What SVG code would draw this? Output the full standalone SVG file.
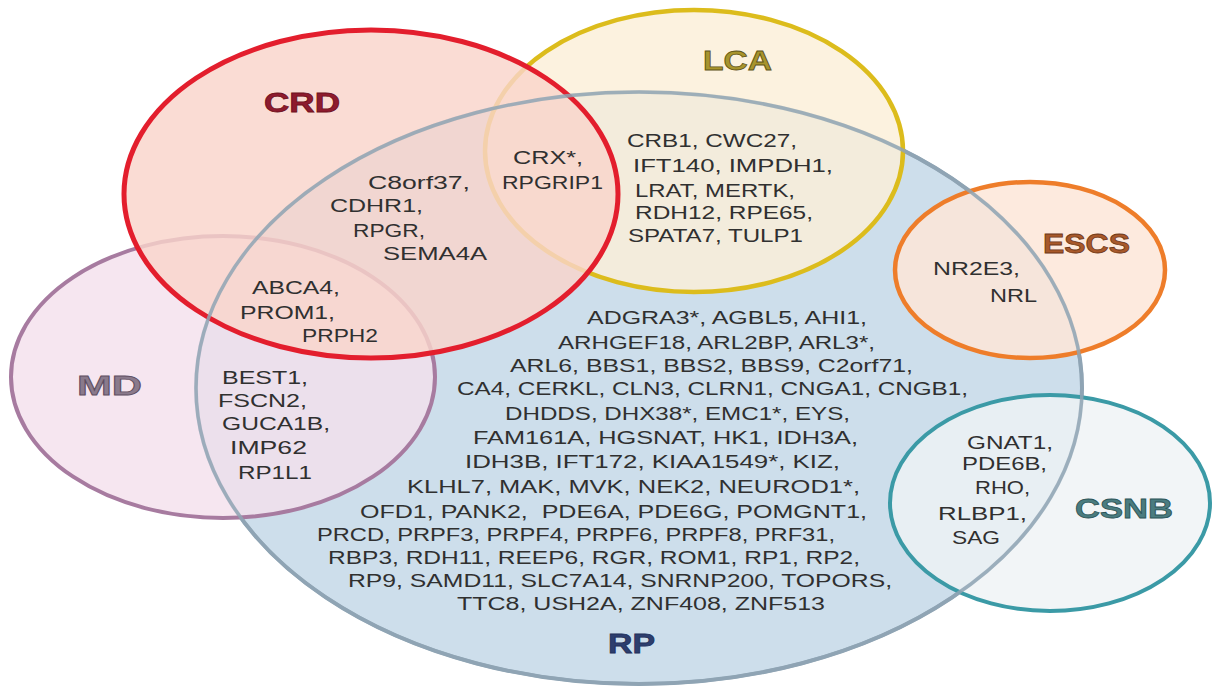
<svg xmlns="http://www.w3.org/2000/svg" width="1212" height="691" viewBox="0 0 1212 691">
<style>
.lbl{font-family:"Liberation Sans",Arial,sans-serif;font-weight:bold;font-size:28px;stroke-width:0.8px}
.g{font-family:"Liberation Sans",Arial,sans-serif;font-size:18px;fill:#303030}
.edge{fill:none}
</style>
<defs>
<ellipse id="rp-shape" cx="639" cy="388" rx="443" ry="296"/>
</defs>
<rect width="1212" height="691" fill="#ffffff"/>
<g id="RP">
<use href="#rp-shape" fill="#cddeeb" stroke="#8fa4b4" stroke-width="4"/>
<text class="lbl" x="608" y="653" textLength="47" lengthAdjust="spacingAndGlyphs" fill="#2d3e6e" stroke="#23305a">RP</text>
</g>
<g id="MD">
<ellipse cx="223" cy="377" rx="212" ry="141" fill="#f4e0ec" fill-opacity="0.8" stroke="#a77ba0" stroke-width="4"/>
<text class="lbl" x="77" y="395" textLength="65" lengthAdjust="spacingAndGlyphs" fill="#8a7a8c" stroke="#5e4e60">MD</text>
</g>
<g id="LCA">
<ellipse cx="694" cy="151" rx="209" ry="141" fill="#fbefd8" fill-opacity="0.82" stroke="#dcbc1c" stroke-width="4.5"/>
<text class="lbl" x="703" y="70" textLength="69" lengthAdjust="spacingAndGlyphs" fill="#a8942c" stroke="#5e5418">LCA</text>
</g>
<g id="CRD">
<ellipse cx="371" cy="194" rx="247" ry="164" fill="#f9d4cb" fill-opacity="0.82" stroke="#e31e2d" stroke-width="5"/>
<text class="lbl" x="264" y="112" textLength="76" lengthAdjust="spacingAndGlyphs" fill="#8e1b2e" stroke="#6e1020">CRD</text>
</g>
<g id="ESCS">
<ellipse cx="1030" cy="270" rx="135" ry="88" fill="#fde6d8" fill-opacity="0.85" stroke="#ee7d2a" stroke-width="4.5"/>
<text class="lbl" x="1043" y="253" textLength="87" lengthAdjust="spacingAndGlyphs" fill="#a8582a" stroke="#6e3818">ESCS</text>
</g>
<g id="CSNB">
<ellipse cx="1050" cy="503" rx="160" ry="108" fill="#eff3f5" fill-opacity="0.8" stroke="#3b9aa6" stroke-width="4"/>
<text class="lbl" x="1075" y="518" textLength="98" lengthAdjust="spacingAndGlyphs" fill="#4a7c80" stroke="#2c5457">CSNB</text>
</g>
<g id="rp-outline">
<use href="#rp-shape" class="edge" stroke="#8fa4b4" stroke-width="3.5" stroke-opacity="0.85"/>
</g>
<g id="genes-crd-rp">
<text class="g" x="368" y="188.5" textLength="102" lengthAdjust="spacingAndGlyphs">C8orf37,</text>
<text class="g" x="330" y="211.5" textLength="93" lengthAdjust="spacingAndGlyphs">CDHR1,</text>
<text class="g" x="353" y="236.5" textLength="72" lengthAdjust="spacingAndGlyphs">RPGR,</text>
<text class="g" x="383" y="259.5" textLength="104" lengthAdjust="spacingAndGlyphs">SEMA4A</text>
</g>
<g id="genes-crd-lca-rp">
<text class="g" x="513" y="164" textLength="70" lengthAdjust="spacingAndGlyphs">CRX*,</text>
<text class="g" x="502" y="188.5" textLength="101" lengthAdjust="spacingAndGlyphs">RPGRIP1</text>
</g>
<g id="genes-lca-rp">
<text class="g" x="627" y="146.5" textLength="170" lengthAdjust="spacingAndGlyphs">CRB1, CWC27,</text>
<text class="g" x="633" y="171.5" textLength="200" lengthAdjust="spacingAndGlyphs">IFT140, IMPDH1,</text>
<text class="g" x="635" y="196.5" textLength="160" lengthAdjust="spacingAndGlyphs">LRAT, MERTK,</text>
<text class="g" x="635" y="218.5" textLength="178" lengthAdjust="spacingAndGlyphs">RDH12, RPE65,</text>
<text class="g" x="628" y="241.5" textLength="175" lengthAdjust="spacingAndGlyphs">SPATA7, TULP1</text>
</g>
<g id="genes-escs-rp">
<text class="g" x="933" y="274.5" textLength="87" lengthAdjust="spacingAndGlyphs">NR2E3,</text>
<text class="g" x="990" y="301.5" textLength="47" lengthAdjust="spacingAndGlyphs">NRL</text>
</g>
<g id="genes-crd-md-rp">
<text class="g" x="252" y="293.5" textLength="88" lengthAdjust="spacingAndGlyphs">ABCA4,</text>
<text class="g" x="240" y="318.5" textLength="95" lengthAdjust="spacingAndGlyphs">PROM1,</text>
<text class="g" x="302" y="341.5" textLength="76" lengthAdjust="spacingAndGlyphs">PRPH2</text>
</g>
<g id="genes-md-rp">
<text class="g" x="222" y="383.5" textLength="86" lengthAdjust="spacingAndGlyphs">BEST1,</text>
<text class="g" x="218" y="406.5" textLength="89" lengthAdjust="spacingAndGlyphs">FSCN2,</text>
<text class="g" x="222" y="429.5" textLength="108" lengthAdjust="spacingAndGlyphs">GUCA1B,</text>
<text class="g" x="230" y="453.5" textLength="77" lengthAdjust="spacingAndGlyphs">IMP62</text>
<text class="g" x="238" y="478.5" textLength="74" lengthAdjust="spacingAndGlyphs">RP1L1</text>
</g>
<g id="genes-rp">
<text class="g" x="587" y="323.5" textLength="280" lengthAdjust="spacingAndGlyphs">ADGRA3*, AGBL5, AHI1,</text>
<text class="g" x="558" y="348.5" textLength="317" lengthAdjust="spacingAndGlyphs">ARHGEF18, ARL2BP, ARL3*,</text>
<text class="g" x="510" y="371.5" textLength="403" lengthAdjust="spacingAndGlyphs">ARL6, BBS1, BBS2, BBS9, C2orf71,</text>
<text class="g" x="457" y="394.5" textLength="511" lengthAdjust="spacingAndGlyphs">CA4, CERKL, CLN3, CLRN1, CNGA1, CNGB1,</text>
<text class="g" x="505" y="419.5" textLength="345" lengthAdjust="spacingAndGlyphs">DHDDS, DHX38*, EMC1*, EYS,</text>
<text class="g" x="473" y="443.5" textLength="385" lengthAdjust="spacingAndGlyphs">FAM161A, HGSNAT, HK1, IDH3A,</text>
<text class="g" x="465" y="467.5" textLength="375" lengthAdjust="spacingAndGlyphs">IDH3B, IFT172, KIAA1549*, KIZ,</text>
<text class="g" x="407" y="492.5" textLength="453" lengthAdjust="spacingAndGlyphs">KLHL7, MAK, MVK, NEK2, NEUROD1*,</text>
<text class="g" x="360" y="517.5" textLength="507" lengthAdjust="spacingAndGlyphs" xml:space="preserve">OFD1, PANK2,  PDE6A, PDE6G, POMGNT1,</text>
<text class="g" x="317" y="540.5" textLength="518" lengthAdjust="spacingAndGlyphs">PRCD, PRPF3, PRPF4, PRPF6, PRPF8, PRF31,</text>
<text class="g" x="328" y="563.5" textLength="532" lengthAdjust="spacingAndGlyphs">RBP3, RDH11, REEP6, RGR, ROM1, RP1, RP2,</text>
<text class="g" x="348" y="586.5" textLength="544" lengthAdjust="spacingAndGlyphs">RP9, SAMD11, SLC7A14, SNRNP200, TOPORS,</text>
<text class="g" x="457" y="610" textLength="368" lengthAdjust="spacingAndGlyphs">TTC8, USH2A, ZNF408, ZNF513</text>
</g>
<g id="genes-csnb-rp">
<text class="g" x="967" y="448.5" textLength="86" lengthAdjust="spacingAndGlyphs">GNAT1,</text>
<text class="g" x="962" y="469.5" textLength="85" lengthAdjust="spacingAndGlyphs">PDE6B,</text>
<text class="g" x="975" y="493.5" textLength="55" lengthAdjust="spacingAndGlyphs">RHO,</text>
<text class="g" x="938" y="519.5" textLength="89" lengthAdjust="spacingAndGlyphs">RLBP1,</text>
<text class="g" x="952" y="543.5" textLength="48" lengthAdjust="spacingAndGlyphs">SAG</text>
</g>
</svg>
